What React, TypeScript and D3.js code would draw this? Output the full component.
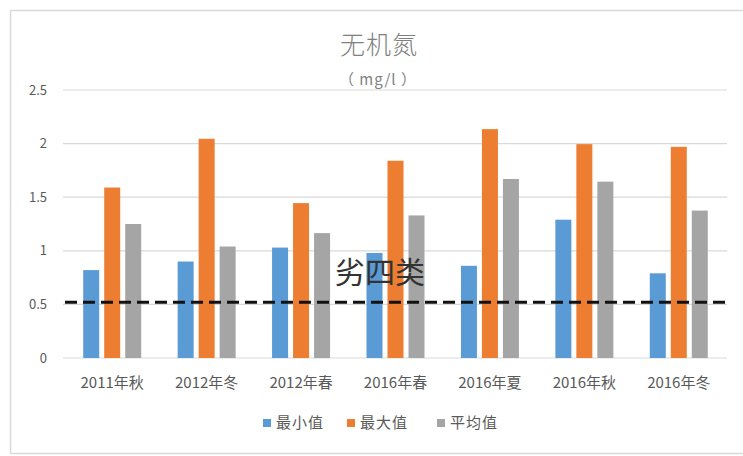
import React from "react";
import * as d3 from "d3";

const categories = ["2011年秋", "2012年冬", "2012年春", "2016年春", "2016年夏", "2016年秋", "2016年冬"];
const seriesNames = ["最小值", "最大值", "平均值"];
const minValues = [0.82, 0.9, 1.03, 0.98, 0.86, 1.29, 0.79];
const maxValues = [1.59, 2.045, 1.445, 1.84, 2.135, 1.995, 1.97];
const avgValues = [1.25, 1.04, 1.165, 1.33, 1.67, 1.645, 1.375];
const yTicks = [0, 0.5, 1, 1.5, 2, 2.5];
const thresholdValue = 0.52;
const thresholdLabel = "劣四类";
const colors = ["#5b9bd5", "#ed7d31", "#a5a5a5"];

const W = 743;
const H = 456;
const FONT = "'Noto Sans CJK SC', 'Noto Sans', sans-serif";

export default function App() {
  const series = [minValues, maxValues, avgValues];
  const x = d3.scaleBand<string>().domain(categories).range([65, 726]).paddingInner(0).paddingOuter(0);
  const groupW = 58;
  const inner = d3
    .scaleBand<number>()
    .domain([0, 1, 2])
    .range([-groupW / 2, groupW / 2])
    .paddingInner(5 / 21)
    .paddingOuter(0);
  const y = d3.scaleLinear().domain([0, 2.5]).range([358, 90]);

  const legendX = [263, 347, 437];

  return (
    <svg
      width={W}
      height={H}
      style={{ position: "absolute", left: 0, top: 0, background: "#fff" }}
      fontFamily={FONT}
    >
      <rect x={0} y={0} width={W} height={H} fill="#fff" />
      {/* chart frame */}
      <rect x={10.5} y={10.5} width={W} height={443} fill="#fff" stroke="#d9d9d9" strokeWidth={1.5} />

      {/* title */}
      <text x={379} y={54} textAnchor="middle" fontSize={25} fill="#7f7f7f" fontWeight={300} letterSpacing={1}>
        无机氮
      </text>
      <text x={378} y={85} textAnchor="middle" fontSize={15} fill="#7f7f7f" letterSpacing={1}>
        （ mg/l ）
      </text>

      {/* gridlines and y ticks */}
      {yTicks.map((t) => (
        <g key={t}>
          <line x1={63} x2={727} y1={y(t)} y2={y(t)} stroke="#d9d9d9" strokeWidth={1.2} />
          <text x={47} y={y(t)} dy="0.35em" textAnchor="end" fontSize={13} fill="#595959">
            {t}
          </text>
        </g>
      ))}

      {/* bars */}
      {categories.map((c, i) => {
        const cx = (x(c) ?? 0) + x.bandwidth() / 2;
        return (
          <g key={c}>
            {series.map((vals, s) => (
              <rect
                key={s}
                x={cx + (inner(s) ?? 0)}
                y={y(vals[i])}
                width={inner.bandwidth()}
                height={y(0) - y(vals[i])}
                fill={colors[s]}
              />
            ))}
            <text x={cx} y={383} dy="0.35em" textAnchor="middle" fontSize={15} fill="#595959">
              {c}
            </text>
          </g>
        );
      })}

      {/* threshold line */}
      <line
        x1={65}
        x2={726}
        y1={y(thresholdValue)}
        y2={y(thresholdValue)}
        stroke="#111"
        strokeWidth={3}
        strokeDasharray="12 6"
      />
      <text x={380} y={272} dy="0.35em" textAnchor="middle" fontSize={30} fill="#333">
        {thresholdLabel}
      </text>

      {/* legend */}
      {seriesNames.map((n, s) => (
        <g key={n}>
          <rect x={legendX[s]} y={419} width={8} height={8} fill={colors[s]} />
          <text x={legendX[s] + 13} y={423} dy="0.35em" fontSize={15} fill="#595959" letterSpacing={1}>
            {n}
          </text>
        </g>
      ))}
    </svg>
  );
}
